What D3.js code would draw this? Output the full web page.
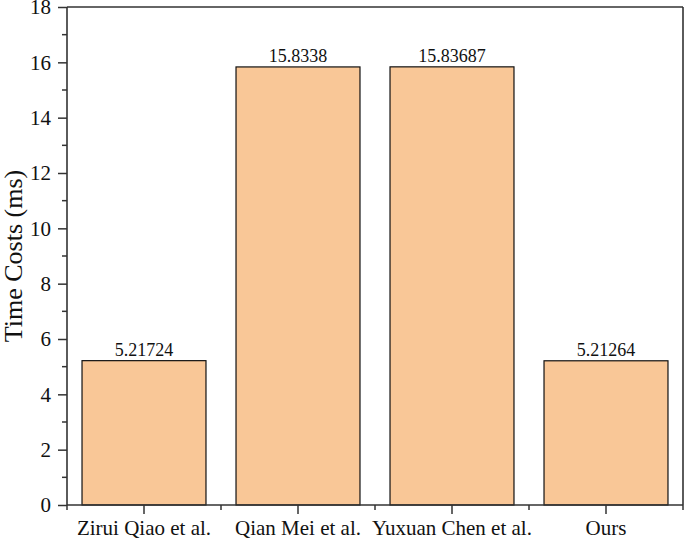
<!DOCTYPE html>
<html>
<head>
<meta charset="utf-8">
<script src="https://cdn.jsdelivr.net/npm/d3@7"></script>
<style>
  body { margin: 0; background: #fff; }
  text { font-family: "Liberation Serif", "Times New Roman", serif; fill: #111; }
</style>
</head>
<body>
<svg id="chart" width="685" height="542"></svg>
<script>
// chart data
var methods = ["Zirui Qiao et al.", "Qian Mei et al.", "Yuxuan Chen et al.", "Ours"];
var timeCosts = [5.21724, 15.8338, 15.83687, 5.21264];
var valueLabels = ["5.21724", "15.8338", "15.83687", "5.21264"];
var yTicks = [0, 2, 4, 6, 8, 10, 12, 14, 16, 18];
var yMinorTicks = [1, 3, 5, 7, 9, 11, 13, 15, 17];

var svg = d3.select("#chart");
var plotLeft = 67, plotRight = 683, plotTop = 7, plotBottom = 505;

var x = d3.scaleBand()
    .domain(methods)
    .range([plotLeft, plotRight])
    .paddingInner(0.195)
    .paddingOuter(0.0975);

var xc = d3.scaleBand().domain(methods).range([plotLeft, plotRight]);

var y = d3.scaleLinear().domain([0, 18]).range([plotBottom, plotTop]);

var data = methods.map(function (m, i) {
    return { name: m, value: timeCosts[i], label: valueLabels[i] };
});

// bars
svg.selectAll(".bar").data(data)
    .enter().append("rect")
    .attr("class", "bar")
    .attr("x", function (d) { return x(d.name); })
    .attr("width", x.bandwidth())
    .attr("y", function (d) { return y(d.value); })
    .attr("height", function (d) { return y(0) - y(d.value); })
    .style("fill", "#f9c797")
    .style("stroke", "#111")
    .style("stroke-width", 1.2);

// value labels
svg.selectAll(".vlabel").data(data)
    .enter().append("text")
    .attr("class", "vlabel")
    .attr("x", function (d) { return x(d.name) + x.bandwidth() / 2; })
    .attr("y", function (d) { return y(d.value) - 5; })
    .attr("text-anchor", "middle")
    .style("font-size", "18px")
    .text(function (d) { return d.label; });

// frame
svg.append("line").attr("x1", plotLeft).attr("x2", plotRight).attr("y1", plotTop).attr("y2", plotTop)
    .style("stroke", "#333").style("stroke-width", 1.6);
svg.append("line").attr("x1", plotRight).attr("x2", plotRight).attr("y1", plotTop).attr("y2", plotBottom)
    .style("stroke", "#333").style("stroke-width", 1.6);

// y axis
var yAxis = svg.append("g")
    .attr("transform", "translate(" + plotLeft + ",0)")
    .call(d3.axisLeft(y).tickValues(yTicks).tickSize(9).tickPadding(7).tickFormat(d3.format("d")));
yAxis.selectAll(".tick line").style("stroke", "#333").style("stroke-width", 1.5);
yAxis.select(".domain").remove();
yAxis.selectAll(".tick text").style("font-size", "21px").style("fill", "#111")
    .style("font-family", "Liberation Serif, serif");
svg.append("line").attr("x1", plotLeft).attr("x2", plotLeft).attr("y1", plotTop).attr("y2", plotBottom)
    .style("stroke", "#333").style("stroke-width", 1.6);

svg.append("g").selectAll("line").data(yMinorTicks)
    .enter().append("line")
    .attr("x1", plotLeft - 5).attr("x2", plotLeft)
    .attr("y1", function (d) { return y(d); })
    .attr("y2", function (d) { return y(d); })
    .style("stroke", "#333").style("stroke-width", 1.5);

// x axis
var xAxis = svg.append("g")
    .attr("transform", "translate(0," + plotBottom + ")")
    .call(d3.axisBottom(xc).tickSize(9).tickPadding(6));
xAxis.select(".domain").remove();
xAxis.selectAll(".tick line").style("stroke", "#333").style("stroke-width", 1.5);
xAxis.selectAll(".tick text").style("font-size", "21px").style("fill", "#111")
    .style("font-family", "Liberation Serif, serif");
svg.append("line").attr("x1", plotLeft).attr("x2", plotRight).attr("y1", plotBottom).attr("y2", plotBottom)
    .style("stroke", "#333").style("stroke-width", 1.6);

// minor ticks on category boundaries
var bounds = [plotLeft].concat(methods.map(function (m) { return xc(m) + xc.bandwidth(); }));
svg.append("g").selectAll("line").data(bounds)
    .enter().append("line")
    .attr("x1", function (d) { return d; }).attr("x2", function (d) { return d; })
    .attr("y1", plotBottom).attr("y2", plotBottom + 5)
    .style("stroke", "#333").style("stroke-width", 1.5);

// y title
svg.append("text")
    .attr("transform", "translate(22,256) rotate(-90)")
    .attr("text-anchor", "middle")
    .style("font-size", "26px")
    .text("Time Costs (ms)");
</script>
</body>
</html>
